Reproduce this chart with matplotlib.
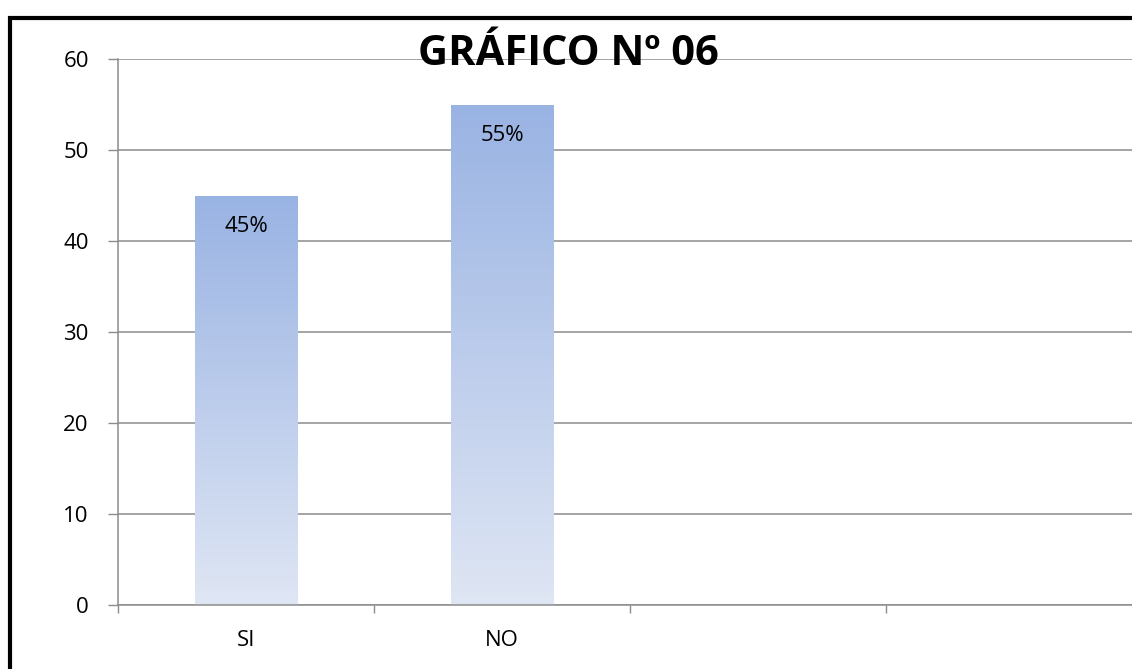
import numpy as np
import matplotlib.pyplot as plt
from matplotlib.patches import Rectangle
from matplotlib.colors import LinearSegmentedColormap

# datos
categorias = ['SI', 'NO', '', '']
valores = [45, 55]
etiquetas = ['45%', '55%']
y_ticks = [0, 10, 20, 30, 40, 50, 60]

plt.rcParams['font.family'] = ['Open Sans', 'DejaVu Sans']

fig = plt.figure(figsize=(11.32, 6.69), dpi=100)
ax = fig.add_axes([118 / 1132, 64 / 669, 1024 / 1132, 546 / 669])

# degradado de las barras (claro abajo, oscuro arriba)
cmap = LinearSegmentedColormap.from_list('azul', ['#dfe6f4', '#99b3e3'])
grad = np.linspace(0, 1, 256).reshape(-1, 1)

ancho = 0.40
for i, v in enumerate(valores):
    x0 = i + 0.5 - ancho / 2
    rect = Rectangle((x0, 0), ancho, v, facecolor='none', edgecolor='none')
    ax.add_patch(rect)
    im = ax.imshow(grad, cmap=cmap, origin='lower', aspect='auto',
                   extent=[x0, x0 + ancho, 0, v], zorder=2)
    im.set_clip_path(rect)
    ax.text(i + 0.5, v - 3.4, etiquetas[i], ha='center', va='center',
            fontsize=16, color='black', zorder=3)

ax.set_xlim(0, len(categorias))
ax.set_ylim(0, 60)
ax.set_yticks(y_ticks)
ax.yaxis.grid(True, color='#8c8c8c', linewidth=1.1)
ax.set_axisbelow(True)

# marcas en los limites de categoria, etiquetas en el centro
ax.set_xticks(np.arange(len(categorias) + 1))
ax.set_xticklabels([])
ax.set_xticks(np.arange(len(categorias)) + 0.5, minor=True)
ax.set_xticklabels(categorias, minor=True)
ax.tick_params(axis='x', which='major', length=6, color='#8c8c8c', width=1)
ax.tick_params(axis='x', which='minor', length=0, pad=18, labelsize=16)
ax.tick_params(axis='y', length=7, color='#8c8c8c', width=1, pad=14, labelsize=16)

for s in ['top', 'right']:
    ax.spines[s].set_visible(False)
ax.spines['left'].set_color('#8c8c8c')
ax.spines['bottom'].set_color('#8c8c8c')
ax.spines['left'].set_linewidth(1.1)
ax.spines['bottom'].set_linewidth(1.1)

fig.text(0.502, 0.918, 'GRÁFICO Nº 06', ha='center', va='center',
         fontsize=30, fontweight='bold')

# marco negro del grafico
fig.patches.append(Rectangle((10 / 1132, -0.1), 1.2, (669 - 18) / 669 + 0.1,
                             transform=fig.transFigure, fill=False,
                             edgecolor='black', linewidth=3))

fig.savefig('out.png', dpi=100)
